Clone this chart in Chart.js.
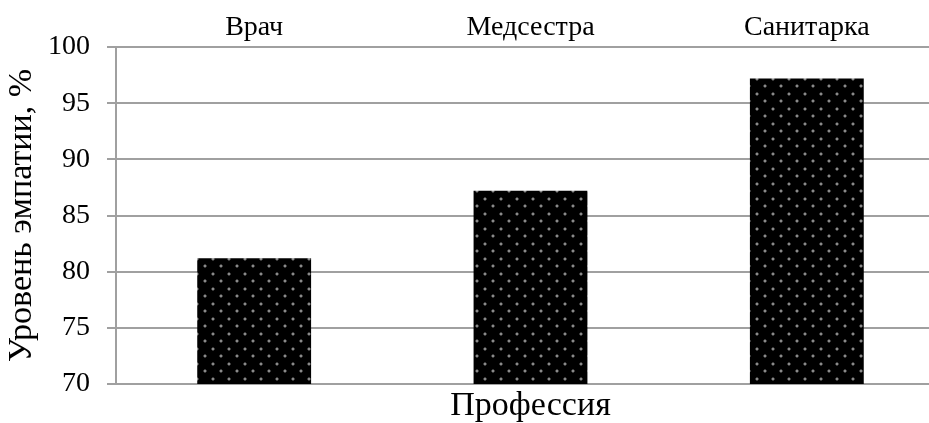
<!DOCTYPE html>
<html lang="ru">
<head>
<meta charset="utf-8">
<script src="https://cdn.jsdelivr.net/npm/chart.js@4/dist/chart.umd.min.js"></script>
<style>
  html, body { margin: 0; padding: 0; background: #fff; overflow: hidden; }
  #wrap { width: 929px; height: 423px; overflow: hidden; }
</style>
</head>
<body>
<div id="wrap"><canvas id="c" width="950" height="423"></canvas></div>
<script>
// Профессии и уровень эмпатии (%)
const professions = ['Врач', 'Медсестра', 'Санитарка'];
const empathyLevel = [81.2, 87.2, 97.2];
const yTickValues = [70, 75, 80, 85, 90, 95, 100];

const SERIF = '"Liberation Serif", "DejaVu Serif", serif';
const GRID = '#a0a0a0';

// Чёрная заливка с сеткой серых точек
function dottedFill() {
  const tile = document.createElement('canvas');
  tile.width = 16; tile.height = 15;
  const t = tile.getContext('2d');
  t.fillStyle = '#000';
  t.fillRect(0, 0, 16, 15);
  const dot = (x, y, c) => {
    t.fillStyle = c;
    t.fillRect(x, y, 2, 2);
    t.fillStyle = 'rgba(110,110,110,0.5)';
    t.fillRect(x - 1, y, 1, 2); t.fillRect(x + 2, y, 1, 2);
    t.fillRect(x, y - 1, 2, 1); t.fillRect(x, y + 2, 2, 1);
  };
  dot(4, 3, '#8a8a8a');
  dot(12, 10, '#8a8a8a');
  return document.getElementById('c').getContext('2d').createPattern(tile, 'repeat');
}

new Chart(document.getElementById('c'), {
  type: 'bar',
  data: {
    labels: professions,
    datasets: [{
      data: empathyLevel,
      backgroundColor: dottedFill(),
      borderWidth: 0,
      barPercentage: 0.412,
      categoryPercentage: 1.0
    }]
  },
  options: {
    responsive: false,
    animation: false,
    events: [],
    layout: { padding: { left: 0, right: 5, top: 0, bottom: 0 } },
    plugins: {
      legend: { display: false },
      tooltip: { enabled: false },
      title: {
        display: true,
        fullSize: false,
        position: 'bottom',
        text: 'Профессия',
        color: '#000',
        font: { family: SERIF, size: 34, weight: 'normal', lineHeight: 1.0 },
        padding: { top: 5, bottom: 0 }
      }
    },
    scales: {
      x: {
        position: 'top',
        grid: { display: false, drawTicks: false },
        border: { display: false },
        ticks: {
          color: '#000',
          font: { family: SERIF, size: 28 },
          padding: 3
        },
        afterFit(scale) { scale.height = 47; }
      },
      y: {
        min: 70,
        max: 100,
        afterBuildTicks(scale) { scale.ticks = yTickValues.map(v => ({ value: v })); },
        grid: { color: GRID, lineWidth: 2, tickLength: 9, drawTicks: true },
        border: { color: GRID, width: 2 },
        ticks: {
          color: '#000',
          font: { family: SERIF, size: 28 },
          padding: 17
        },
        title: {
          display: true,
          text: 'Уровень эмпатии, %',
          color: '#000',
          font: { family: SERIF, size: 34, lineHeight: 1.0 },
          padding: { top: 5, bottom: 0 }
        },
        afterFit(scale) { scale.width = 116; }
      }
    }
  }
});
</script>
</body>
</html>
